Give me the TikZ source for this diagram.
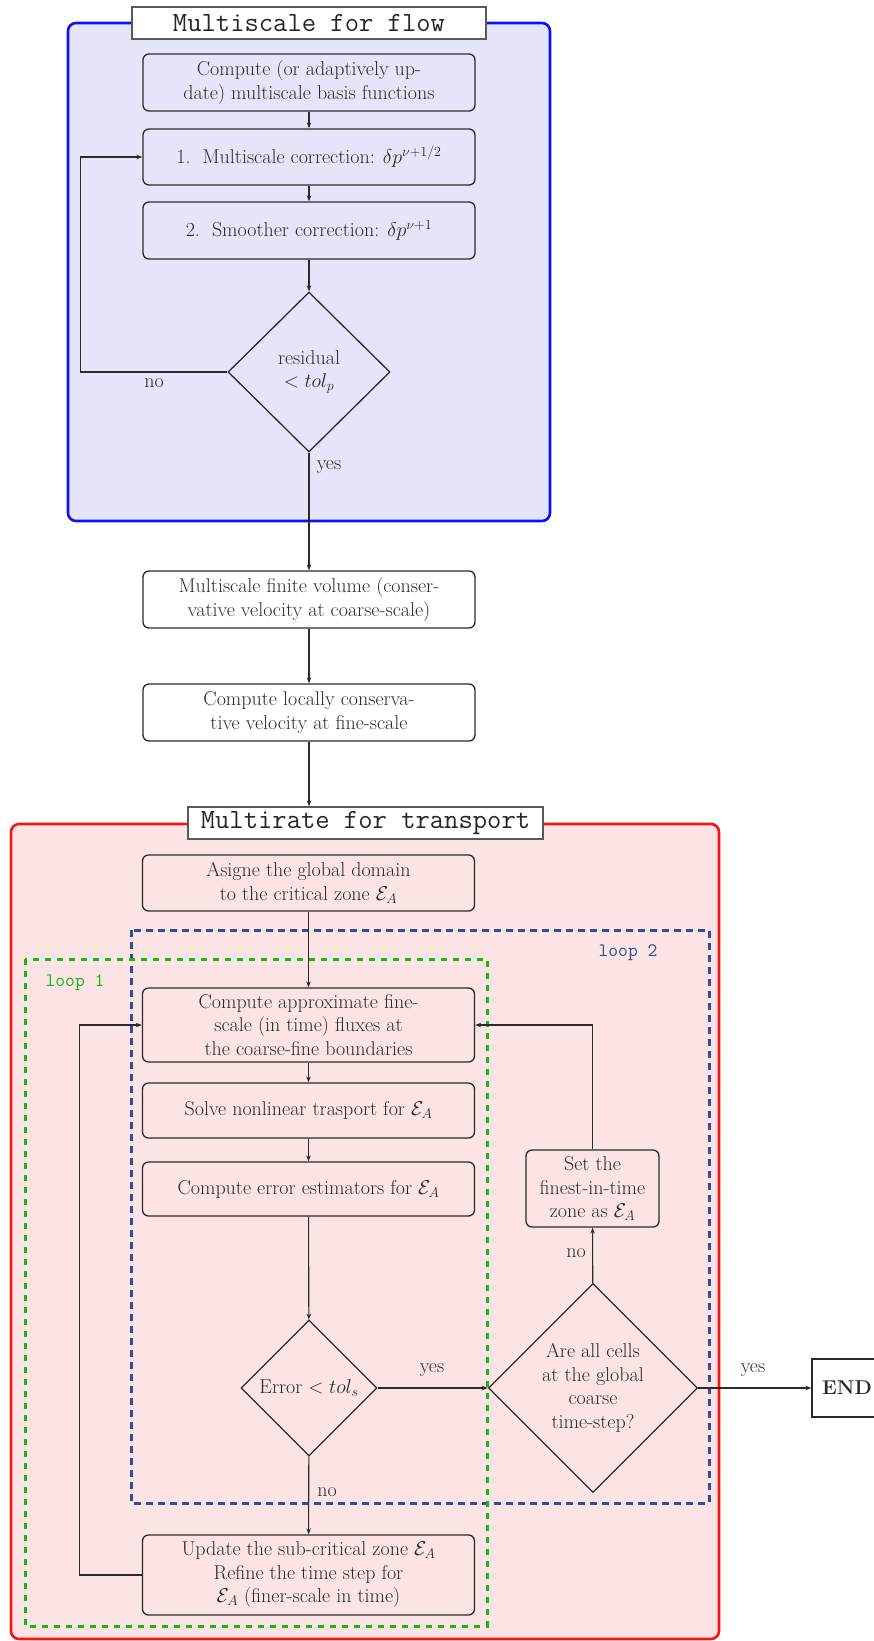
\RequirePackage{fix-cm}
\documentclass[tikz,border=0pt]{standalone}
\usetikzlibrary{shapes.geometric,arrows.meta}
\definecolor{flowfill}{HTML}{E5E5FA}
\definecolor{flowborder}{HTML}{1010F5}
\definecolor{trfill}{HTML}{FDE4E4}
\definecolor{trborder}{HTML}{F51515}
\definecolor{loopgreen}{HTML}{12BA12}
\definecolor{loopblue}{HTML}{2C4E9C}
\definecolor{ink}{HTML}{2A2A2A}
\begin{document}
\begin{tikzpicture}[x=1pt,y=-1pt,
  every node/.style={font=\fontsize{20}{23.5}\selectfont, text=ink},
  proc/.style={draw=ink, line width=1.3pt, rounded corners=6pt, minimum width=332pt, align=center, inner sep=0pt},
  dec/.style={draw=ink, line width=1.3pt, diamond, align=center, inner sep=0pt},
  conn/.style={draw=ink, line width=1.1pt, -{Stealth[length=6pt,width=4.5pt]}},
  titlebox/.style={draw=black!65, fill=white, line width=1.3pt, font=\fontsize{27.8}{30}\selectfont\ttfamily, text=black!85, minimum height=32pt, inner sep=0pt},
  looptext/.style={font=\fontsize{19}{21}\selectfont\ttfamily}
]
\useasboundingbox (0,0) rectangle (874,1641);

% backgrounds
\draw[flowborder, fill=flowfill, line width=2.6pt, rounded corners=8pt] (68,23) rectangle (550,521);
\draw[trborder, fill=trfill, line width=2.6pt, rounded corners=8pt] (11,824) rectangle (719,1639);
\draw[loopblue, line width=3pt, dash pattern=on 7pt off 5pt] (131,930) rectangle (709,1503);
\draw[loopgreen, line width=3pt, dash pattern=on 6pt off 6pt] (25,959) rectangle (487,1626);

\node[titlebox, minimum width=354pt] (title1) at (309,23) {Multiscale for flow};
\node[titlebox, minimum width=355pt] (title2) at (365.5,823) {Multirate for transport};

\node[looptext, text=loopgreen] (loop1) at (75,983) {loop 1};
\node[looptext, text=loopblue] (loop2) at (628,953) {loop 2};

% flow part
\node[proc, minimum height=57pt] (b1) at (309,82.5) {Compute (or adaptively up-\\date) multiscale basis functions};
\node[proc, minimum height=56pt] (b2) at (309,157) {1.~~Multiscale correction: $\delta p^{\nu+1/2}$};
\node[proc, minimum height=57pt] (b3) at (309,230.5) {2.~~Smoother correction: $\delta p^{\nu+1}$};
\node[dec, minimum width=162pt, minimum height=160pt] (d1) at (309,372) {residual\\$<tol_p$};
\node[proc, minimum height=57pt] (b4) at (309,599.5) {Multiscale finite volume (conser-\\vative velocity at coarse-scale)};
\node[proc, minimum height=57pt] (b5) at (309,712.5) {Compute locally conserva-\\tive velocity at fine-scale};

% transport part
\node[proc, minimum height=56pt] (b6) at (308.5,883) {Asigne the global domain\\to the critical zone $\mathcal{E}_A$};
\node[proc, minimum height=74pt] (b7) at (308.5,1025) {Compute approximate fine-\\scale (in time) fluxes at\\the coarse-fine boundaries};
\node[proc, minimum height=55pt] (b8) at (308.5,1110.5) {Solve nonlinear trasport for $\mathcal{E}_A$};
\node[proc, minimum height=54pt] (b9) at (308.5,1189) {Compute error estimators for $\mathcal{E}_A$};
\node[dec, minimum width=136pt, minimum height=136pt] (d2) at (309,1388) {Error $<tol_s$};
\node[dec, minimum width=209pt, minimum height=209pt] (d3) at (593,1388) {Are all cells\\at the global\\coarse\\time-step?};
\node[proc, minimum height=80pt] (b10) at (308.5,1575) {Update the sub-critical zone $\mathcal{E}_A$\\Refine the time step for\\$\mathcal{E}_A$ (finer-scale in time)};
\node[proc, minimum width=133pt, minimum height=77pt] (b11) at (592.5,1188.5) {Set the\\finest-in-time\\zone as $\mathcal{E}_A$};
\node[draw=ink, line width=1.3pt, minimum width=70pt, minimum height=58pt, inner sep=0pt, font=\fontsize{20}{23.5}\selectfont\bfseries] (end) at (847,1388) {END};

% labels
\node (no1) at (154,383) {no};
\node (yes1) at (329,467) {yes};
\node (yes2) at (432,1370) {yes};
\node (no2) at (327,1492) {no};
\node (no3) at (576,1253) {no};
\node (yes3) at (753,1370) {yes};

% connectors
\draw[conn] (b1) -- (b2);
\draw[conn] (b2) -- (b3);
\draw[conn] (b3) -- (d1);
\draw[conn] (d1.west) -- ++(-147,0) |- (b2.west);
\draw[conn] (d1) -- (b4);
\draw[conn] (b4) -- (b5);
\draw[conn] (b5) -- (b5 |- title2.north);
\draw[conn] (b6) -- (b7);
\draw[conn] (b7) -- (b8);
\draw[conn] (b8) -- (b9);
\draw[conn] (b9) -- (d2);
\draw[conn] (d2) -- (b10);
\draw[conn] (d2) -- (d3);
\draw[conn] (d3) -- (end);
\draw[conn] (d3) -- (b11);
\draw[conn] (b11.north) |- (b7.east);
\draw[conn] (b10.west) -- ++(-62,0) |- (b7.west);
\end{tikzpicture}
\end{document}
